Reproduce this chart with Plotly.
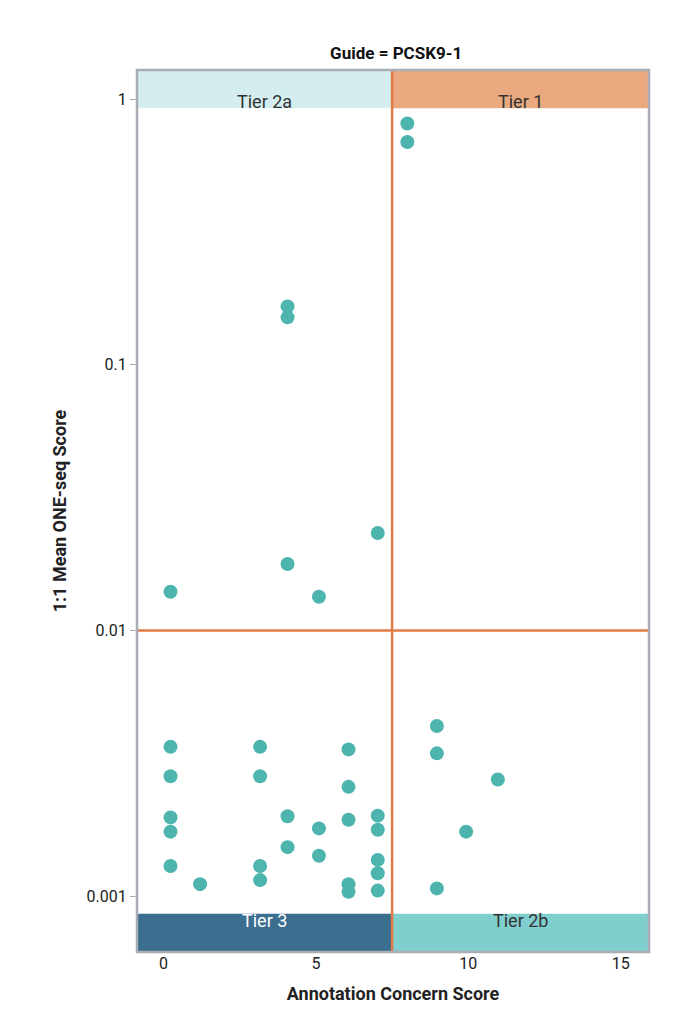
import plotly.graph_objects as go

# data
score_x = [8, 8, 4.07, 4.07, 7.03, 0.23, 4.07, 5.1,
           0.23, 0.23, 0.23, 0.23, 0.23, 1.2,
           3.17, 3.17, 3.17, 3.17, 4.07, 4.07, 5.1, 5.1,
           6.07, 6.07, 6.07, 6.07, 6.07,
           7.03, 7.03, 7.03, 7.03, 7.03,
           8.97, 8.97, 8.97, 9.93, 10.97]
score_y = [0.81, 0.69, 0.166, 0.151, 0.0233, 0.014, 0.0178, 0.0134,
           0.00365, 0.00283, 0.00198, 0.00175, 0.0013, 0.00111,
           0.00365, 0.00283, 0.0013, 0.00115, 0.002, 0.00153, 0.0018, 0.00142,
           0.00357, 0.00258, 0.00194, 0.00111, 0.00104,
           0.00201, 0.00178, 0.00137, 0.00122, 0.00105,
           0.00437, 0.00345, 0.00107, 0.00175, 0.00275]
x_split = 7.5
y_split = 0.01
tiers = [("Tier 2a", 0, 1, "#d4eef0", "#333"), ("Tier 1", 1, 1, "#eaa97e", "#333"),
         ("Tier 3", 0, 0, "#3b6e8f", "white"), ("Tier 2b", 1, 0, "#80cfcf", "#333")]

x_range = [-0.87, 15.93]
band_h = 0.0435

fig = go.Figure()
fig.add_trace(go.Scatter(x=score_x, y=score_y, mode="markers",
                         marker=dict(color="#4db5ae", size=14), showlegend=False))

shapes = []
annotations = []
for name, right, top, color, fcolor in tiers:
    x0, x1 = (x_split, x_range[1]) if right else (x_range[0], x_split)
    y0, y1 = (1 - band_h, 1) if top else (0, band_h)
    shapes.append(dict(type="rect", xref="x", yref="paper", x0=x0, x1=x1, y0=y0, y1=y1,
                       fillcolor=color, opacity=1, line_width=0, layer="above"))
    annotations.append(dict(x=(x0 + x1) / 2, y=(y0 + y1) / 2, xref="x", yref="paper", text=name,
                            showarrow=False, font=dict(size=18, color=fcolor)))
shapes.append(dict(type="line", xref="x", yref="paper", x0=x_split, x1=x_split, y0=0, y1=1,
                   opacity=1, line=dict(color="#e07b45", width=2.5), layer="above"))
shapes.append(dict(type="line", xref="paper", yref="y", x0=0, x1=1, y0=y_split, y1=y_split,
                   opacity=1, line=dict(color="#e07b45", width=2.5), layer="above"))
shapes.append(dict(type="rect", xref="paper", yref="paper", x0=0, x1=1, y0=0, y1=1,
                   fillcolor="rgba(0,0,0,0)", opacity=1,
                   line=dict(color="#a9adb5", width=2.5), layer="above"))

fig.update_layout(
    width=675, height=1024, template="simple_white",
    font=dict(family="Roboto", size=16, color="#222"),
    title=dict(text="<b>Guide = PCSK9-1</b>", x=0.575, xanchor="center",
               y=0.962, font=dict(size=17, color="#111")),
    margin=dict(l=129, r=34, t=62, b=80),
    shapes=shapes, annotations=annotations,
)
fig.update_xaxes(range=x_range, tickvals=[0, 5, 10, 15], showline=False, ticks="",
                 title=dict(text="<b>Annotation Concern Score</b>", font=dict(size=18)))
fig.update_yaxes(type="log", range=[-3.21, 0.11], tickvals=[0.001, 0.01, 0.1, 1],
                 ticktext=["0.001", "0.01", "0.1", "1"], showline=False, ticks="outside",
                 ticklen=6, tickcolor="#a9adb5",
                 title=dict(text="<b>1:1 Mean ONE-seq Score</b>", font=dict(size=18)))

fig.write_html("out.html")
